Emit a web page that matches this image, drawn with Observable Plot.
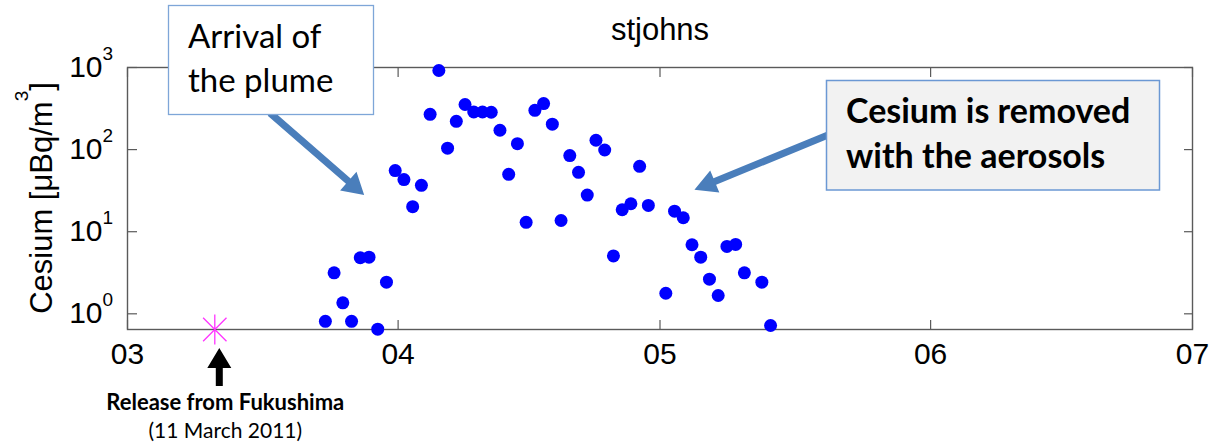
<!DOCTYPE html>
<html>
<head>
<meta charset="utf-8">
<script src="https://cdn.jsdelivr.net/npm/d3@7"></script>
<script src="https://cdn.jsdelivr.net/npm/@observablehq/plot@0.6"></script>
<style>
  html, body { margin: 0; padding: 0; background: #fff; }
</style>
</head>
<body>
<div id="chart"></div>
<script>
// Station and daily air-filter samples of airborne cesium (µBq/m³)
const stationName = "stjohns";
const sampleDays = [
  "2011-03-23", "2011-03-24", "2011-03-25", "2011-03-26", "2011-03-27", "2011-03-28",
  "2011-03-29", "2011-03-30", "2011-03-31", "2011-04-01", "2011-04-02", "2011-04-03",
  "2011-04-04", "2011-04-05", "2011-04-06", "2011-04-07", "2011-04-08", "2011-04-09",
  "2011-04-10", "2011-04-11", "2011-04-12", "2011-04-13", "2011-04-14", "2011-04-15",
  "2011-04-16", "2011-04-17", "2011-04-18", "2011-04-19", "2011-04-20", "2011-04-21",
  "2011-04-22", "2011-04-23", "2011-04-24", "2011-04-25", "2011-04-26", "2011-04-27",
  "2011-04-28", "2011-04-29", "2011-05-01", "2011-05-02", "2011-05-03", "2011-05-04",
  "2011-05-05", "2011-05-06", "2011-05-07", "2011-05-08", "2011-05-09", "2011-05-10",
  "2011-05-12", "2011-05-13"
];
const cesium = [
  0.81, 3.16, 1.36, 0.81, 4.82, 4.90,
  0.65, 2.43, 55.5, 43.1, 20.2, 36.7,
  269, 919, 104, 221, 354, 287,
  287, 285, 172, 50, 118, 13.0,
  301, 364, 204, 13.7, 84.5, 52.9,
  27.9, 130, 98.9, 5.07, 18.5, 21.9,
  62.6, 20.9, 1.78, 17.8, 14.8, 6.94,
  4.90, 2.64, 1.67, 6.62, 7.0, 3.16,
  2.43, 0.72
];

// Axis ticks
const monthTicks = ["2011-03-01", "2011-04-01", "2011-05-01", "2011-06-01", "2011-07-01"];
const decadeTicks = [1, 10, 100, 1000];
const yTitle = ["Cesium [\u03bcBq/m", "3", "]"];

// Annotations
const releaseDay = "2011-03-11";
const releaseNote = ["Release from Fukushima", "(11 March 2011)"];
const plumeNote = ["Arrival of", "the plume"];
const removalNote = ["Cesium is removed", "with the aerosols"];
const plumeArrowTip = {date: "2011-03-28T04:00Z", value: 27.7};
const removalArrowTip = {date: "2011-05-05T00:00Z", value: 31.9};

const parseDay = d3.utcParse("%Y-%m-%d");
const SAMPLE_HOUR = 16; // filters are changed in the late afternoon
const sampleTime = d => new Date(parseDay(d).getTime() + SAMPLE_HOUR * 3600e3);
const measurements = sampleDays.map((d, i) => ({date: sampleTime(d), cesium: cesium[i]}));
const months = monthTicks.map(parseDay);
const releaseDate = parseDay(releaseDay);

const axisGray = "#5a5a5a";
const sansFont = "'Liberation Sans', Arial, Helvetica, sans-serif";
const noteFont = "Lato, 'Open Sans', sans-serif";
const calloutBlue = "#4a7ebb";

// MATLAB-like asterisk marker: a vertical bar crossed by two diagonals
const asteriskSymbol = {
  draw(context, size) {
    const r = Math.sqrt(size / Math.PI);
    const d = r * 0.78;
    context.moveTo(0, -r); context.lineTo(0, r);
    context.moveTo(-d, -d); context.lineTo(d, d);
    context.moveTo(-d, d); context.lineTo(d, -d);
  }
};

// Filled block arrow from tail [x1, y1] to tip [x2, y2]
function arrowPath([x1, y1], [x2, y2], shaft, headLen, headW) {
  const L = Math.hypot(x2 - x1, y2 - y1);
  const ux = (x2 - x1) / L, uy = (y2 - y1) / L;
  const px = -uy, py = ux;
  const bx = x2 - ux * headLen, by = y2 - uy * headLen;
  const s = shaft / 2, h = headW / 2;
  return `M${x1 + px * s},${y1 + py * s}L${bx + px * s},${by + py * s}` +
    `L${bx + px * h},${by + py * h}L${x2},${y2}L${bx - px * h},${by - py * h}` +
    `L${bx - px * s},${by - py * s}L${x1 - px * s},${y1 - py * s}Z`;
}

// Rotated y-axis title with a superscript
function yAxisTitle(index, scales, values, dims) {
  const cy = (dims.marginTop + dims.height - dims.marginBottom) / 2;
  const t = d3.create("svg:text")
    .attr("transform", `translate(${dims.marginLeft - 75},${cy}) rotate(-90)`)
    .attr("text-anchor", "middle")
    .attr("font-family", sansFont)
    .attr("font-size", 31)
    .attr("fill", "#000");
  t.append("tspan").text(yTitle[0]);
  t.append("tspan").attr("dy", -24).attr("font-size", 19).text(yTitle[1]);
  t.append("tspan").attr("dy", 24).text(yTitle[2]);
  return t.node();
}

// Callout boxes with arrows pointing into the data
function callouts(index, scales, values, dims) {
  const g = d3.create("svg:g");
  const tip1 = [scales.x(new Date(plumeArrowTip.date)), scales.y(plumeArrowTip.value)];
  const tip2 = [scales.x(new Date(removalArrowTip.date)), scales.y(removalArrowTip.value)];
  g.append("path").attr("d", arrowPath([270, 113], tip1, 7, 21, 25)).attr("fill", calloutBlue);
  g.append("path").attr("d", arrowPath([828, 135], tip2, 7, 22, 24)).attr("fill", calloutBlue);

  // "Arrival of the plume"
  g.append("rect").attr("x", 168.5).attr("y", 5.5).attr("width", 205).attr("height", 109)
    .attr("fill", "#fff").attr("stroke", "#7ea6d8").attr("stroke-width", 1.3);
  const t1 = g.append("text").attr("font-family", noteFont).attr("font-size", 33)
    .attr("text-anchor", "start").attr("fill", "#000");
  plumeNote.forEach((line, i) => t1.append("tspan").attr("x", 188).attr("y", 48 + i * 44).text(line));

  // "Cesium is removed with the aerosols"
  g.append("rect").attr("x", 826.5).attr("y", 80.5).attr("width", 333).attr("height", 109.5)
    .attr("fill", "#f2f2f2").attr("stroke", "#6b98d4").attr("stroke-width", 1.5);
  const t2 = g.append("text").attr("font-family", noteFont).attr("font-size", 34)
    .attr("font-weight", "bold").attr("text-anchor", "start").attr("fill", "#000");
  removalNote.forEach((line, i) => t2.append("tspan").attr("x", 846).attr("y", 123 + i * 45).text(line));
  return g.node();
}

// Release marker arrow and caption below the time axis
function releaseCaption(index, scales, values, dims) {
  const g = d3.create("svg:g");
  const x0 = scales.x(releaseDate);
  const bottom = dims.height - dims.marginBottom;
  g.append("path").attr("d", arrowPath([x0 + 5, bottom + 57], [x0 + 5, bottom + 19], 7, 20, 24))
    .attr("fill", "#000");
  g.append("text").attr("x", x0 + 11).attr("y", bottom + 81)
    .attr("text-anchor", "middle").attr("font-family", noteFont).attr("font-weight", "bold")
    .attr("font-size", 22).attr("fill", "#000").text(releaseNote[0]);
  g.append("text").attr("x", x0 + 11).attr("y", bottom + 109)
    .attr("text-anchor", "middle").attr("font-family", noteFont)
    .attr("font-size", 21).attr("fill", "#000").text(releaseNote[1]);
  return g.node();
}

const chart = Plot.plot({
  width: 1211,
  height: 446,
  marginLeft: 127,
  marginRight: 19,
  marginTop: 67,
  marginBottom: 117,
  style: {fontFamily: sansFont, fontSize: "30px", color: "#000", background: "#fff", overflow: "visible"},
  x: {type: "utc", domain: [months[0], months[months.length - 1]]},
  y: {type: "log", domain: [0.644, 1000]},
  marks: [
    Plot.frame({stroke: axisGray, strokeWidth: 1.4}),
    // inward ticks on all four sides
    Plot.axisX({ticks: months, tickSize: -9, tickFormat: () => "", stroke: axisGray, strokeWidth: 1.2, label: null}),
    Plot.axisX({anchor: "top", ticks: months, tickSize: -9, tickFormat: () => "", stroke: axisGray, strokeWidth: 1.2, label: null}),
    Plot.axisY({ticks: decadeTicks, tickSize: -10, tickFormat: () => "", stroke: axisGray, strokeWidth: 1.2, label: null}),
    Plot.axisY({anchor: "right", ticks: decadeTicks, tickSize: -9, tickFormat: () => "", stroke: axisGray, strokeWidth: 1.2, label: null}),
    // month labels
    Plot.axisX({ticks: months, tickSize: 0, tickPadding: 13, tickFormat: d3.utcFormat("%m"), fontSize: 30, fill: "#000", label: null}),
    // decade labels: 10 with a superscript exponent
    Plot.text(decadeTicks, {y: d => d, frameAnchor: "left", text: () => "10", textAnchor: "end", dx: -25, fontSize: 30, fill: "#000"}),
    Plot.text(decadeTicks, {y: d => d, frameAnchor: "left", text: d => String(Math.round(Math.log10(d))), textAnchor: "start", dx: -25, dy: -14, fontSize: 19, fill: "#000"}),
    // station title
    Plot.text([stationName], {frameAnchor: "top", lineAnchor: "bottom", dy: -28, fontSize: 31, fill: "#000"}),
    yAxisTitle,
    Plot.dot([releaseDate], {x: d => d, frameAnchor: "bottom", symbol: asteriskSymbol, r: 15, stroke: "#ff33ff", strokeWidth: 1.3}),
    Plot.dot(measurements, {x: "date", y: "cesium", r: 6.5, fill: "#0000ff"}),
    callouts,
    releaseCaption
  ]
});

document.getElementById("chart").append(chart);
</script>
</body>
</html>
